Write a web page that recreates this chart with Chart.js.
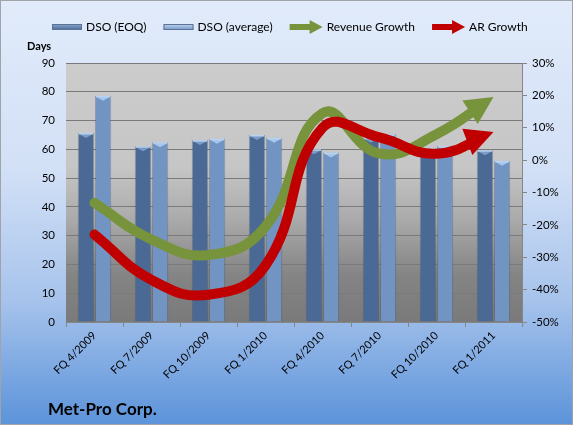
<!DOCTYPE html>
<html>
<head>
<meta charset="utf-8">
<script src="https://cdn.jsdelivr.net/npm/chart.js@4.4.0/dist/chart.umd.min.js"></script>
<style>
body { margin: 0; background: #fff; }
#wrap { width: 575px; height: 427px; }
</style>
</head>
<body>
<div id="wrap"><canvas id="dsoChart"></canvas></div>
<script>
var quarters = ['FQ 4/2009', 'FQ 7/2009', 'FQ 10/2009', 'FQ 1/2010', 'FQ 4/2010', 'FQ 7/2010', 'FQ 10/2010', 'FQ 1/2011'];
var dsoEoq = [65.7, 61.1, 63.2, 65, 60, 64, 60.5, 59.7];
var dsoAvg = [78.6, 62.5, 63.7, 64, 58.9, 65.3, 61.2, 56];
var revenueGrowth = [-13.2, -24.5, -29.3, -20.5, 14.5, 2, 8, 19.5];
var arGrowth = [-23, -37, -41.6, -32.5, 10, 7, 2, 8.7];
var dayTicks = [0, 10, 20, 30, 40, 50, 60, 70, 80, 90];
var pctTicks = [-50, -40, -30, -20, -10, 0, 10, 20, 30];

var FONT = 'Lato, "Open Sans", sans-serif';
var GREEN = '#77933C';
var RED = '#C00000';

function barFill(dark) {
    return function (c) {
        var el = c.element;
        var ch = c.chart;
        if (!el || !isFinite(el.x) || !isFinite(el.width)) return dark ? '#4A6A95' : '#7194C3';
        var half = el.width / 2;
        var g = ch.ctx.createLinearGradient(el.x - half, 0, el.x + half, 0);
        if (dark) {
            g.addColorStop(0, '#3B5880');
            g.addColorStop(0.45, '#4F6F9B');
            g.addColorStop(1, '#3E5C86');
        } else {
            g.addColorStop(0, '#5F82B1');
            g.addColorStop(0.45, '#7A9CCA');
            g.addColorStop(1, '#6385B4');
        }
        return g;
    };
}

// background of the page and of the plot area
var backdrop = {
    id: 'backdrop',
    beforeDraw: function (chart) {
        var ctx = chart.ctx, a = chart.chartArea;
        ctx.save();
        ctx.fillStyle = '#fff';
        ctx.fillRect(0, 0, chart.width, chart.height);
        var g = ctx.createLinearGradient(0, 0, 0, 425);
        g.addColorStop(0, '#E1EBFA');
        g.addColorStop(0.4, '#D2E0F6');
        g.addColorStop(0.7, '#A8C4EC');
        g.addColorStop(1, '#5C93DA');
        ctx.fillStyle = g;
        ctx.fillRect(0, 0, 573, 425);
        ctx.strokeStyle = '#A0A4AA';
        ctx.lineWidth = 1;
        ctx.strokeRect(0.5, 0.5, 572, 424);
        var p = ctx.createLinearGradient(0, a.top, 0, a.bottom);
        p.addColorStop(0, '#CCCCCC');
        p.addColorStop(0.4, '#C6C6C6');
        p.addColorStop(0.6, '#ABABAB');
        p.addColorStop(0.82, '#848484');
        p.addColorStop(1, '#7A7A7A');
        ctx.fillStyle = p;
        ctx.fillRect(a.left, a.top, a.right - a.left, a.bottom - a.top);
        ctx.restore();
    },
    afterDraw: function (chart) {
        var ctx = chart.ctx;
        ctx.save();
        ctx.fillStyle = '#000';
        ctx.font = 'bold 11px ' + FONT;
        ctx.textBaseline = 'alphabetic';
        ctx.fillText('Days', 27, 50);
        ctx.font = 'bold 17px ' + FONT;
        ctx.fillText('Met-Pro Corp.', 48, 415);
        ctx.restore();
    }
};

// legend across the top
var topLegend = {
    id: 'topLegend',
    afterDraw: function (chart) {
        var ctx = chart.ctx;
        var x = 52, y = 27;
        var items = chart.data.datasets.slice().sort(function (a, b) { return a.legendPos - b.legendPos; });
        ctx.save();
        ctx.font = '12px ' + FONT;
        ctx.textBaseline = 'middle';
        items.forEach(function (ds) {
            var w;
            if (ds.type === 'line') {
                w = 33;
                ctx.strokeStyle = ds.borderColor;
                ctx.lineWidth = 6;
                ctx.beginPath();
                ctx.moveTo(x, y);
                ctx.lineTo(x + 22, y);
                ctx.stroke();
                ctx.fillStyle = ds.borderColor;
                ctx.beginPath();
                ctx.moveTo(x + w, y);
                ctx.lineTo(x + 20, y - 7);
                ctx.lineTo(x + 20, y + 7);
                ctx.closePath();
                ctx.fill();
            } else {
                w = 30;
                var g = ctx.createLinearGradient(0, y - 3, 0, y + 3);
                g.addColorStop(0, ds.legendLight);
                g.addColorStop(1, ds.legendColor);
                ctx.fillStyle = g;
                ctx.fillRect(x, y - 3, w, 6);
                ctx.strokeStyle = '#5A7396';
                ctx.lineWidth = 1;
                ctx.strokeRect(x + 0.5, y - 2.5, w - 1, 5);
            }
            ctx.fillStyle = '#000';
            ctx.fillText(ds.label, x + w + 4, y);
            x += w + 4 + ctx.measureText(ds.label).width + 17;
        });
        ctx.restore();
    }
};

// 3D-ish caps on bars, arrow heads on the growth lines
var marks = {
    id: 'marks',
    beforeDatasetDraw: function (chart, args) {
        var ds = chart.data.datasets[args.index];
        if (ds.type !== 'line') return;
        var pts = args.meta.data;
        var last = pts[pts.length - 1];
        var dx = last.x - last.cp1x, dy = last.y - last.cp1y;
        var len = Math.sqrt(dx * dx + dy * dy) || 1;
        dx /= len; dy /= len;
        var L = 28, W = 34;
        var bx = last.x - dx * (L - 4), by = last.y - dy * (L - 4);
        var ctx = chart.ctx;
        ctx.save();
        ctx.beginPath();
        ctx.rect(0, 0, chart.width, chart.height);
        ctx.moveTo(bx - dy * W / 2, by + dx * W / 2);
        ctx.lineTo(bx + dy * W / 2, by - dx * W / 2);
        ctx.lineTo(bx + dy * W / 2 + dx * 40, by - dx * W / 2 + dy * 40);
        ctx.lineTo(bx - dy * W / 2 + dx * 40, by + dx * W / 2 + dy * 40);
        ctx.closePath();
        ctx.clip('evenodd');
    },
    afterDatasetDraw: function (chart, args) {
        var ds = chart.data.datasets[args.index];
        var ctx = chart.ctx;
        var pts = args.meta.data;
        if (ds.type === 'line') {
            ctx.restore();
            var last = pts[pts.length - 1];
            var dx = last.x - last.cp1x, dy = last.y - last.cp1y;
            var len = Math.sqrt(dx * dx + dy * dy) || 1;
            dx /= len; dy /= len;
            var L = 28, W = 28;
            var bx = last.x - dx * L, by = last.y - dy * L;
            ctx.save();
            ctx.fillStyle = ds.borderColor;
            ctx.beginPath();
            ctx.moveTo(last.x, last.y);
            ctx.lineTo(bx - dy * W / 2, by + dx * W / 2);
            ctx.lineTo(bx + dy * W / 2, by - dx * W / 2);
            ctx.closePath();
            ctx.fill();
            ctx.restore();
            return;
        }
        ctx.save();
        pts.forEach(function (el) {
            var h = el.width / 2;
            ctx.fillStyle = ds.capColor;
            ctx.beginPath();
            ctx.moveTo(el.x - h + 1, el.y + 1);
            ctx.lineTo(el.x + h - 1, el.y + 1);
            ctx.lineTo(el.x, el.y + 5);
            ctx.closePath();
            ctx.fill();
            ctx.fillStyle = '#B9D3F0';
            ctx.fillRect(el.x - h + 1, el.y, el.width - 2, 1.5);
        });
        ctx.restore();
    }
};

var ctx = document.getElementById('dsoChart').getContext('2d');
var chart = new Chart(ctx, {
    data: {
        labels: quarters,
        datasets: [{
            type: 'bar',
            label: 'DSO (EOQ)',
            data: dsoEoq,
            yAxisID: 'y',
            order: 2,
            legendPos: 0,
            backgroundColor: barFill(true),
            borderColor: 'rgba(40,60,90,0.35)',
            borderWidth: 1,
            barPercentage: 0.96,
            categoryPercentage: 0.6,
            capColor: '#7C9CC6',
            legendColor: '#4A6A95',
            legendLight: '#8AA6CC'
        }, {
            type: 'bar',
            label: 'DSO (average)',
            data: dsoAvg,
            yAxisID: 'y',
            order: 3,
            legendPos: 1,
            backgroundColor: barFill(false),
            borderColor: 'rgba(40,60,90,0.35)',
            borderWidth: 1,
            barPercentage: 0.96,
            categoryPercentage: 0.6,
            capColor: '#A6C6EC',
            legendColor: '#7194C3',
            legendLight: '#C3D8F2'
        }, {
            type: 'line',
            label: 'Revenue Growth',
            data: revenueGrowth,
            yAxisID: 'y1',
            order: 1,
            legendPos: 2,
            borderColor: GREEN,
            borderWidth: 10,
            borderCapStyle: 'round',
            tension: 0.45,
            pointRadius: 0,
            fill: false
        }, {
            type: 'line',
            label: 'AR Growth',
            data: arGrowth,
            yAxisID: 'y1',
            order: 0,
            legendPos: 3,
            borderColor: RED,
            borderWidth: 10,
            borderCapStyle: 'round',
            tension: 0.45,
            pointRadius: 0,
            fill: false
        }]
    },
    options: {
        responsive: true,
        maintainAspectRatio: false,
        animation: false,
        layout: { padding: { top: 63, left: 0, right: 0, bottom: 0 } },
        plugins: {
            legend: { display: false },
            tooltip: { enabled: false }
        },
        scales: {
            x: {
                grid: { drawOnChartArea: false, drawTicks: true, tickLength: 5, color: '#868686', offset: true },
                border: { display: true, color: '#868686' },
                ticks: { color: '#000', font: { family: FONT, size: 11 }, maxRotation: 45, minRotation: 45, padding: 2 },
                afterFit: function (s) { s.height = 105; }
            },
            y: {
                position: 'left',
                min: 0,
                max: 90,
                afterBuildTicks: function (s) { s.ticks = dayTicks.map(function (v) { return { value: v }; }); },
                grid: { color: '#7A7A7A', drawTicks: false },
                border: { display: false },
                ticks: { color: '#000', font: { family: FONT, size: 11.5 }, padding: 11 },
                afterFit: function (s) { s.width = 66; }
            },
            y1: {
                position: 'right',
                min: -50,
                max: 30,
                afterBuildTicks: function (s) { s.ticks = pctTicks.map(function (v) { return { value: v }; }); },
                grid: { drawOnChartArea: false, tickLength: 5, color: '#868686' },
                border: { display: true, color: '#868686' },
                ticks: { color: '#000', font: { family: FONT, size: 11.5 }, padding: 5, callback: function (v) { return v + '%'; } },
                afterFit: function (s) { s.width = 53; }
            }
        }
    },
    plugins: [backdrop, topLegend, marks]
});
</script>
</body>
</html>
